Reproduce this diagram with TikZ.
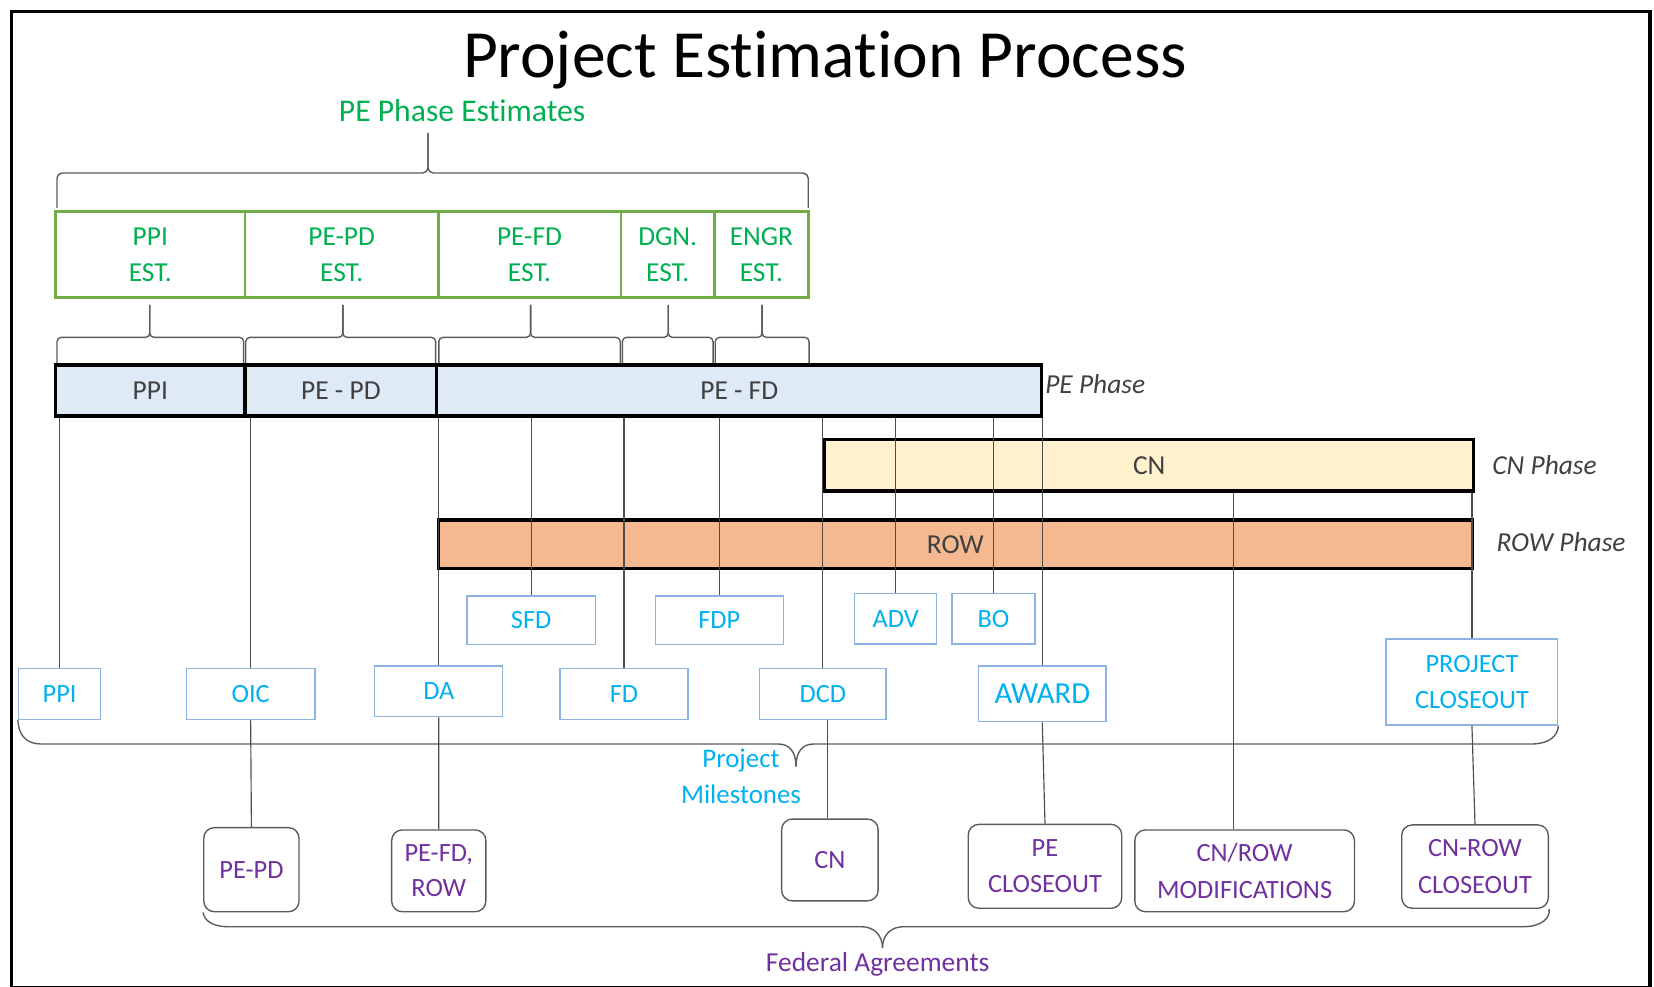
\documentclass[tikz,border=0pt]{standalone}
\usepackage{fontspec}
\setmainfont{Carlito}[Ligatures=CommonOff]
\usetikzlibrary{calc}
\definecolor{ggreen}{HTML}{70AD47}
\definecolor{gtext}{HTML}{00B050}
\definecolor{pefill}{HTML}{DEEBF7}
\definecolor{cnfill}{HTML}{FFF2CC}
\definecolor{rowfill}{HTML}{F4B990}
\definecolor{msborder}{HTML}{8DB3E2}
\definecolor{mstext}{HTML}{00B0F0}
\definecolor{agtext}{HTML}{7030A0}
\definecolor{darkline}{HTML}{4D4D4D}
\definecolor{bartext}{HTML}{404040}
\definecolor{bracegray}{HTML}{5A5A5A}
\begin{document}
\begin{tikzpicture}[x=1pt,y=-1pt,
  estbox/.style={draw=ggreen, line width=2.5pt, text=gtext, inner sep=0pt, align=center, font=\fontsize{26}{34.8}\selectfont},
  phasebar/.style={draw=black, line width=3pt, inner sep=0pt, text=bartext, font=\fontsize{26}{30}\selectfont},
  phaselabel/.style={anchor=base west, text=bartext, inner sep=0pt, font=\fontsize{26}{30}\selectfont\itshape},
  msbox/.style={draw=msborder, line width=1.2pt, text=mstext, inner sep=0pt, align=center, font=\fontsize{25}{34.8}\selectfont},
  agbox/.style={draw=bracegray, line width=1.3pt, rounded corners=10pt, text=agtext, inner sep=0pt, align=center, font=\fontsize{25}{34.5}\selectfont},
  conn/.style={draw=darkline, line width=1.1pt},
  bracepath/.style={draw=bracegray, line width=1.3pt},
]
\useasboundingbox (0,0) rectangle (1568,935);
% frame
\draw[line width=3.5pt] (11,11) rectangle (1564,936);

% title
\node[anchor=base, inner sep=0pt, font=\fontsize{64}{70}\selectfont] (title) at (782,73) {Project Estimation Process};
\node[anchor=base, inner sep=0pt, text=gtext, font=\fontsize{30}{34}\selectfont] (pelabel) at (438,115) {PE Phase Estimates};

% top brace
\draw[bracepath, rounded corners=5pt] (54,197) -- (54,164) -- (405.7,164) -- (405.7,126);
\draw[bracepath, rounded corners=5pt] (766.2,197) -- (766.2,164) -- (405.7,164) -- (405.7,126);

% estimate boxes
\node[estbox, minimum width=179.6pt, minimum height=81.5pt] (g1) at (142.5,241.5) {PPI\\EST.};
\node[estbox, minimum width=183.2pt, minimum height=81.5pt] (g2) at (323.9,241.5) {PE-PD\\EST.};
\node[estbox, minimum width=173.1pt, minimum height=81.5pt] (g3) at (502,241.5) {PE-FD\\EST.};
\node[estbox, minimum width=88.8pt, minimum height=81.5pt] (g4) at (633,241.5) {DGN.\\EST.};
\node[estbox, minimum width=88.8pt, minimum height=81.5pt] (g5) at (721.8,241.5) {ENGR\\EST.};

% small braces
\foreach \a/\b/\m in {54/231/142, 233/413/325, 416/588/503, 590/676/633.5, 678/767/722.5}{
  \draw[bracepath, rounded corners=4pt] (\a,345) -- (\a,319.8) -- (\m,319.8) -- (\m,289);
  \draw[bracepath, rounded corners=4pt] (\b,345) -- (\b,319.8) -- (\m,319.8) -- (\m,289);
}

% phase bars
\node[phasebar, fill=rowfill, minimum width=980.5pt, minimum height=46pt] (row) at (905.75,516) {ROW};
\node[phasebar, fill=cnfill, minimum width=615pt, minimum height=48.5pt] (cn) at (1089.5,441.25) {CN};
\node[phasebar, fill=pefill, minimum width=179.6pt, minimum height=48.4pt] (b1) at (142.5,370.2) {PPI};
\node[phasebar, fill=pefill, minimum width=181.7pt, minimum height=48.4pt] (b2) at (323.2,370.2) {PE - PD};
\node[phasebar, fill=pefill, minimum width=573.5pt, minimum height=48.4pt] (b3) at (700.8,370.2) {PE - FD};

\node[phaselabel] (pephase) at (990.7,372.6) {PE Phase};
\node[phaselabel] (cnphase) at (1414.6,449.4) {CN Phase};
\node[phaselabel] (rowphase) at (1418.5,523) {ROW Phase};

% milestone boxes
\node[msbox, minimum width=77.9pt, minimum height=48pt] (m_ppi) at (56.5,658) {PPI};
\node[msbox, minimum width=122pt, minimum height=48pt] (m_oic) at (237.6,658) {OIC};
\node[msbox, minimum width=121.4pt, minimum height=48pt] (m_da) at (416,655.4) {DA};
\node[msbox, minimum width=121.4pt, minimum height=48pt] (m_fd) at (591.6,658) {FD};
\node[msbox, minimum width=120pt, minimum height=48pt] (m_dcd) at (780,658) {DCD};
\node[msbox, minimum width=120.6pt, minimum height=52.8pt, font=\fontsize{29}{34}\selectfont] (m_award) at (988.1,657.8) {AWARD};
\node[msbox, minimum width=162.8pt, minimum height=81.5pt] (m_pc) at (1395.4,646.55) {PROJECT\\CLOSEOUT};
\node[msbox, minimum width=121.9pt, minimum height=45.8pt] (m_sfd) at (503.55,587.9) {SFD};
\node[msbox, minimum width=121.5pt, minimum height=45.8pt] (m_fdp) at (681.95,587.9) {FDP};
\node[msbox, minimum width=77.7pt, minimum height=48pt] (m_adv) at (849.15,586.5) {ADV};
\node[msbox, minimum width=78.7pt, minimum height=48pt] (m_bo) at (941.85,586.5) {BO};

% agreement boxes
\node[agbox, minimum width=90.3pt, minimum height=79.7pt] (a_pepd) at (238.35,824.45) {PE-PD};
\node[agbox, minimum width=89.3pt, minimum height=77.5pt, font=\fontsize{25}{33.2}\selectfont] (a_pefd) at (415.95,825.55) {PE-FD,\\ROW};
\node[agbox, minimum width=91.5pt, minimum height=77.5pt] (a_cn) at (786.75,815.25) {CN};
\node[agbox, minimum width=145.5pt, minimum height=79.5pt] (a_pec) at (990.65,821.25) {PE\\CLOSEOUT};
\node[agbox, minimum width=208.2pt, minimum height=77.5pt] (a_mod) at (1179.9,825.55) {CN/ROW\\MODIFICATIONS};
\node[agbox, minimum width=139pt, minimum height=79pt] (a_cnr) at (1398.3,821.5) {CN-ROW\\CLOSEOUT};

% connectors (upper)
\draw[conn] (m_ppi.north) -- (m_ppi.north |- b1.south);
\draw[conn] (m_oic.north) -- (m_oic.north |- b1.south);
\draw[conn] (m_da.north) -- (m_da.north |- b2.south);
\draw[conn] (m_sfd.north) -- (m_sfd.north |- b3.south);
\draw[conn] (m_fd.north) -- (m_fd.north |- b3.south);
\draw[conn] (m_fdp.north) -- (m_fdp.north |- b3.south);
\draw[conn] (m_dcd.north) -- (m_dcd.north |- b3.south);
\draw[conn] (m_adv.north) -- (m_adv.north |- b3.south);
\draw[conn] (m_bo.north) -- (m_bo.north |- b3.south);
\draw[conn] (m_award.north) -- (m_award.north |- b3.south);
\coordinate (modx) at ([xshift=-10.4pt]a_mod.north);
\draw[conn] (modx) -- (modx |- cn.south);
\draw[conn] (m_pc.north) -- (m_pc.north |- cn.south);
% connectors (lower)
\draw[conn] (m_oic.south) -- (a_pepd.north);
\draw[conn] (m_da.south) -- (a_pefd.north);
\coordinate (dcdx) at ([xshift=4.5pt]m_dcd.south);
\draw[conn] (dcdx) -- (dcdx |- a_cn.north);
\draw[conn] (m_award.south) -- (a_pec.north);
\draw[conn] (m_pc.south) -- (a_cnr.north);

% milestone brace
\draw[bracepath] (m_ppi.south west) .. controls (17.5,697) and (25,705.3) .. (39,705.3) -- (737.6,705.3) .. controls (748,705.3) and (754.6,712) .. (754.6,726.8);
\draw[bracepath] (m_pc.south east) .. controls (1476.8,698) and (1468,705.3) .. (1452,705.3) -- (771.6,705.3) .. controls (761,705.3) and (754.6,712) .. (754.6,726.8);
\node[text=mstext, align=center, inner sep=0pt, font=\fontsize{25.5}{34}\selectfont] (mslabel) at (702.5,736.3) {Project\\Milestones};

% agreements brace
\draw[bracepath] (a_pepd.south west) .. controls (193.2,872) and (201,878.5) .. (215.8,878.5) -- (816.6,878.5) .. controls (828,878.5) and (836.6,886) .. (836.6,898.7);
\draw[bracepath] (a_cnr.south east) .. controls (1470.4,870) and (1461,878.5) .. (1444.5,878.5) -- (856.6,878.5) .. controls (845,878.5) and (836.6,886) .. (836.6,898.7);
\node[anchor=base, text=agtext, inner sep=0pt, font=\fontsize{26}{30}\selectfont] (falabel) at (832,921) {Federal Agreements};
\end{tikzpicture}
\end{document}
